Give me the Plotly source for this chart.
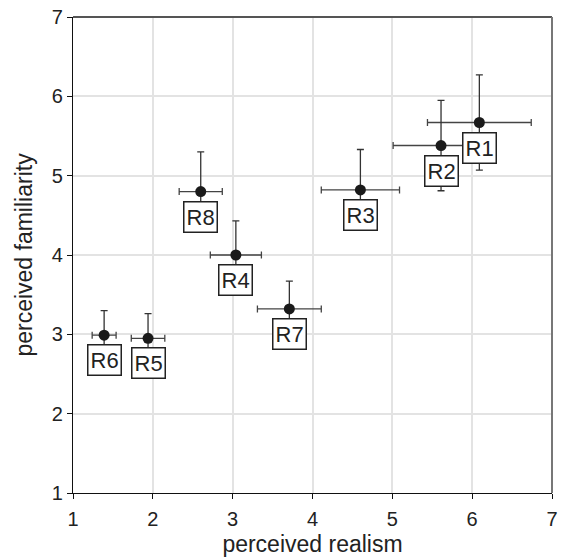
import plotly.graph_objects as go

names = ["R1", "R2", "R3", "R4", "R5", "R6", "R7", "R8"]
realism = [6.09, 5.61, 4.60, 3.04, 1.94, 1.39, 3.71, 2.60]
realism_err = [0.65, 0.60, 0.49, 0.32, 0.21, 0.15, 0.40, 0.27]
familiarity = [5.67, 5.38, 4.82, 4.00, 2.95, 2.99, 3.32, 4.80]
familiarity_err = [0.60, 0.57, 0.51, 0.43, 0.31, 0.31, 0.35, 0.50]
tick_vals = [1, 2, 3, 4, 5, 6, 7]

FONT = "Liberation Sans, Arial, Helvetica, sans-serif"

fig = go.Figure()
fig.add_trace(go.Scatter(
    x=realism, y=familiarity, mode="markers",
    marker=dict(size=11, color="#1a1a1a"),
    error_x=dict(type="data", array=realism_err, color="#444444", thickness=1.3, width=3.5),
    error_y=dict(type="data", array=familiarity_err, color="#333333", thickness=1.3, width=3.5),
    showlegend=False, hoverinfo="skip",
))

for n, xv, yv in zip(names, realism, familiarity):
    fig.add_annotation(
        x=xv, y=yv, text=n, showarrow=False, yshift=-25,
        font=dict(family=FONT, size=22, color="#222222"),
        bgcolor="white", bordercolor="#222222", borderwidth=1.5, borderpad=2,
    )

# top and right border in grey
fig.add_shape(type="line", xref="paper", yref="paper", x0=0, x1=1, y0=1, y1=1,
              line=dict(color="#555555", width=1.8), layer="above")
fig.add_shape(type="line", xref="paper", yref="paper", x0=1, x1=1, y0=0, y1=1,
              line=dict(color="#777777", width=2), layer="above")

axis_common = dict(
    range=[1, 7], tickvals=tick_vals, ticktext=[str(v) for v in tick_vals],
    showgrid=True, gridcolor="#e3e3e3", gridwidth=1.5,
    showline=True, linecolor="#111111", linewidth=1.3,
    ticks="outside", ticklen=5, tickcolor="#111111", tickwidth=1.2,
    tickfont=dict(family=FONT, size=20, color="#222222"),
    zeroline=False, fixedrange=True, automargin=False,
)

fig.update_layout(
    width=564, height=560,
    margin=dict(l=73, r=12, t=17, b=67),
    paper_bgcolor="white", plot_bgcolor="white",
    xaxis=dict(**axis_common, ticklabelstandoff=3,
               title=dict(text="perceived realism",
                          font=dict(family=FONT, size=23, color="#222222"), standoff=6)),
    yaxis=dict(**axis_common,
               title=dict(text="perceived familiarity",
                          font=dict(family=FONT, size=23, color="#222222"), standoff=12)),
)

fig.write_html("out.html")
